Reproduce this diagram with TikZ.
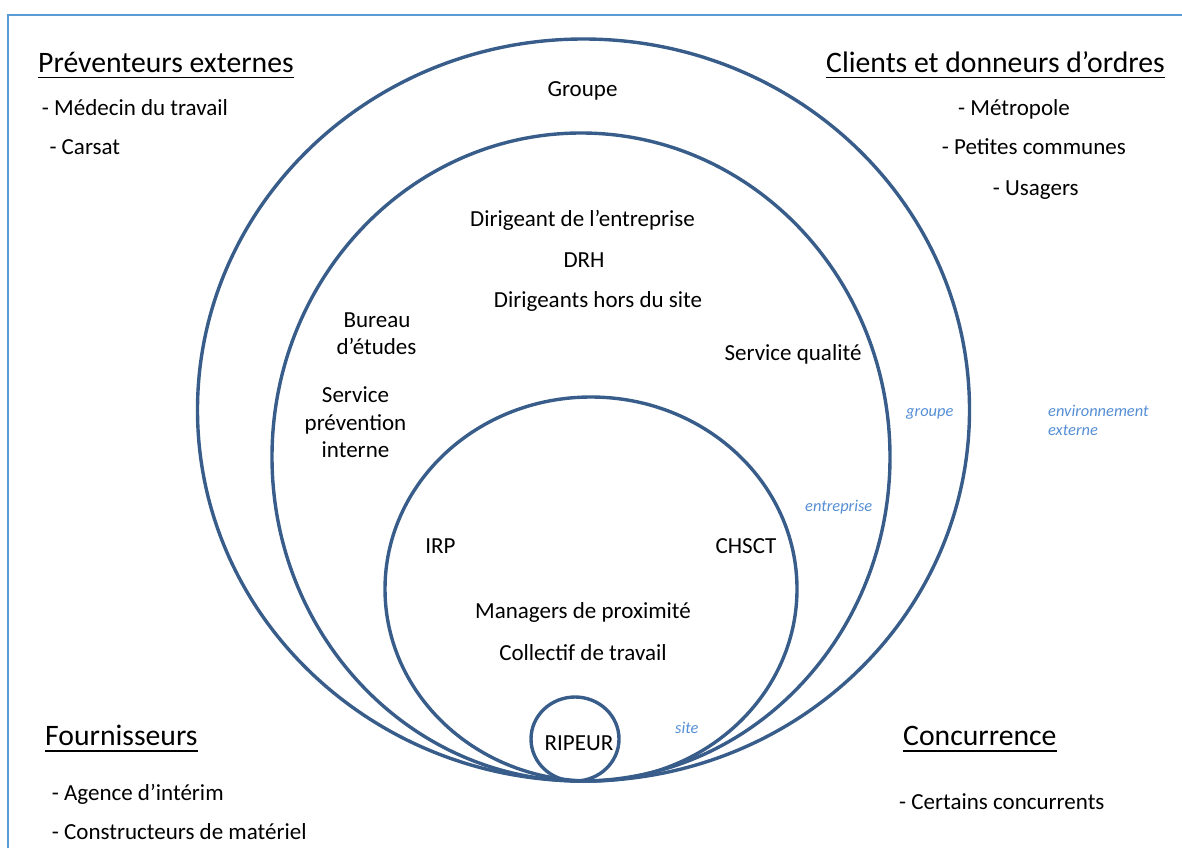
\documentclass[tikz,border=0pt]{standalone}
\usepackage{fontspec}
\setmainfont{Carlito}
\definecolor{ring}{RGB}{56,93,138}
\definecolor{framec}{RGB}{91,155,213}
\definecolor{lbl}{RGB}{85,142,213}
\begin{document}
\begin{tikzpicture}[x=1pt,y=-1pt,
 txt/.style={inner sep=0pt, anchor=base, font=\fontsize{23}{27}\selectfont},
 hdr/.style={inner sep=0pt, anchor=base west, font=\fontsize{29.7}{34}\selectfont},
 lst/.style={inner sep=0pt, anchor=base west, font=\fontsize{23}{27}\selectfont},
 zone/.style={inner sep=0pt, anchor=base west, text=lbl, font=\fontsize{16.4}{19}\selectfont\itshape},
 ringline/.style={draw=ring, line width=3.4pt},
 uline/.style={line width=1.6pt},
 framel/.style={draw=framec, line width=2pt}]
\useasboundingbox (0,0) rectangle (1182,848);
% frame
\coordinate (fl) at (8,848);
\coordinate (fc) at (8,15);
\coordinate (fr) at (1182,15);
\draw[framel] (fl) -- (fc) -- (fr);
% rings
\draw[ringline] (583.5,410) ellipse [x radius=386, y radius=371];
\draw[ringline] (581,457) ellipse [x radius=309, y radius=324];
\draw[ringline] (591,589) ellipse [x radius=206, y radius=192];
\draw[ringline] (575,739) ellipse [x radius=44, y radius=42];
% headers
\node[hdr] (pe) at (38,72.7) {Préventeurs externes};
\node[hdr] (cl) at (826,72.7) {Clients et donneurs d’ordres};
\node[hdr] (fo) at (45,745.7) {Fournisseurs};
\node[hdr] (co) at (903,745.7) {Concurrence};
\foreach \n in {pe,cl,fo,co}{
  \draw[uline] ([yshift=-5pt]\n.base west) -- ([yshift=-5pt]\n.base east);
}
% lists
\node[lst] (l1) at (41.7,115) {- Médecin du travail};
\node[lst] (l2) at (49.3,154) {- Carsat};
\node[lst] (r1) at (958,115) {- Métropole};
\node[lst] (r2) at (941.7,154.3) {- Petites communes};
\node[lst] (r3) at (992.7,195) {- Usagers};
\node[lst] (f1) at (51.7,800) {- Agence d’intérim};
\node[lst] (f2) at (51.7,839.3) {- Constructeurs de matériel};
\node[lst] (c1) at (899,809.3) {- Certains concurrents};
% inner texts
\node[txt] (gr) at (582.5,96.4) {Groupe};
\node[txt] (di) at (582.5,226.4) {Dirigeant de l’entreprise};
\node[txt] (drh) at (584,267) {DRH};
\node[txt] (dh) at (598,307) {Dirigeants hors du site};
\node[txt] (bu1) at (377,327) {Bureau};
\node[txt] (bu2) at (376.5,354) {d’études};
\node[txt] (sp1) at (355.5,402.7) {Service};
\node[txt] (sp2) at (355.5,430) {prévention};
\node[txt] (sp3) at (355.5,457.7) {interne};
\node[txt] (sq) at (793,360) {Service qualité};
\node[txt] (irp) at (440.5,553) {IRP};
\node[txt] (ch) at (746,553) {CHSCT};
\node[txt] (mp) at (583,618) {Managers de proximité};
\node[txt] (ct) at (583,660) {Collectif de travail};
\node[txt] (rip) at (579,750) {RIPEUR};
% zone labels
\node[zone] (zg) at (906,416.5) {groupe};
\node[zone] (ze1) at (1048,416.5) {environnement};
\node[zone] (ze2) at (1048,435.5) {externe};
\node[zone] (zen) at (805,511.7) {entreprise};
\node[zone] (zs) at (675,733) {site};
\end{tikzpicture}
\end{document}
